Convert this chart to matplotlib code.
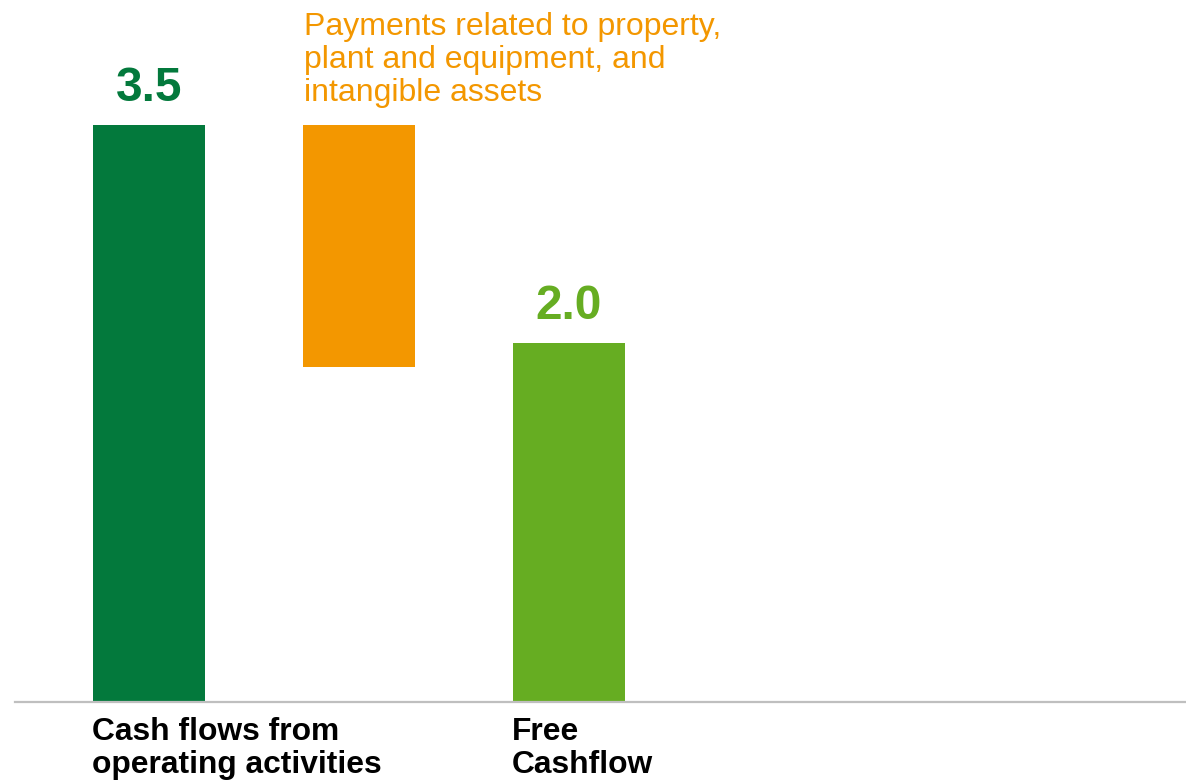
import matplotlib
matplotlib.use("Agg")
import matplotlib.pyplot as plt

categories = ["Cash flows from\noperating activities", "", "Free\nCashflow"]
bottoms = [0.0, 2.03, 0.0]
heights = [3.5, 1.47, 2.18]
value_labels = ["3.5", "", "2.0"]
annotation = "Payments related to property,\nplant and equipment, and\nintangible assets"
colors = ["#03793C", "#F39700", "#66AD22"]

plt.rcParams['font.family'] = ['Liberation Sans', 'DejaVu Sans']

fig = plt.figure(figsize=(11.86, 7.81), dpi=100)
ax = fig.add_axes([15/1186, 79/781, 1171/1186, 702/781])
pos = [0, 1, 2]
w = 0.533
ax.bar(pos, heights, bottom=bottoms, width=w, color=colors, align='center')
ax.set_xlim(-(149-15)/210, (1186-149)/210)
ax.set_ylim(0, 4.258)
for s in ["top", "right", "left"]:
    ax.spines[s].set_visible(False)
ax.spines["bottom"].set_color("#BFBFBF")
ax.spines["bottom"].set_linewidth(1.6)
ax.set_xticks([])
ax.set_yticks([])

for p, b, h, lab, c in zip(pos, bottoms, heights, value_labels, colors):
    if lab:
        ax.annotate(lab, xy=(p, b + h), xytext=(0, 10), textcoords='offset points',
                    ha='center', va='bottom', fontsize=34.5, fontweight='bold', color=c)

for p, cat in zip(pos, categories):
    if cat:
        ax.annotate(cat, xy=(p - w/2, 0), xytext=(-1, -10.5), textcoords='offset points',
                    ha='left', va='top', fontsize=22.9, fontweight='bold', color='black',
                    linespacing=1.13, annotation_clip=False)

ax.annotate(annotation, xy=(1 - w/2, bottoms[1] + heights[1]), xytext=(1, 12),
            textcoords='offset points', ha='left', va='bottom', fontsize=23,
            color=colors[1], linespacing=1.13)

fig.savefig("out.png", dpi=100)
